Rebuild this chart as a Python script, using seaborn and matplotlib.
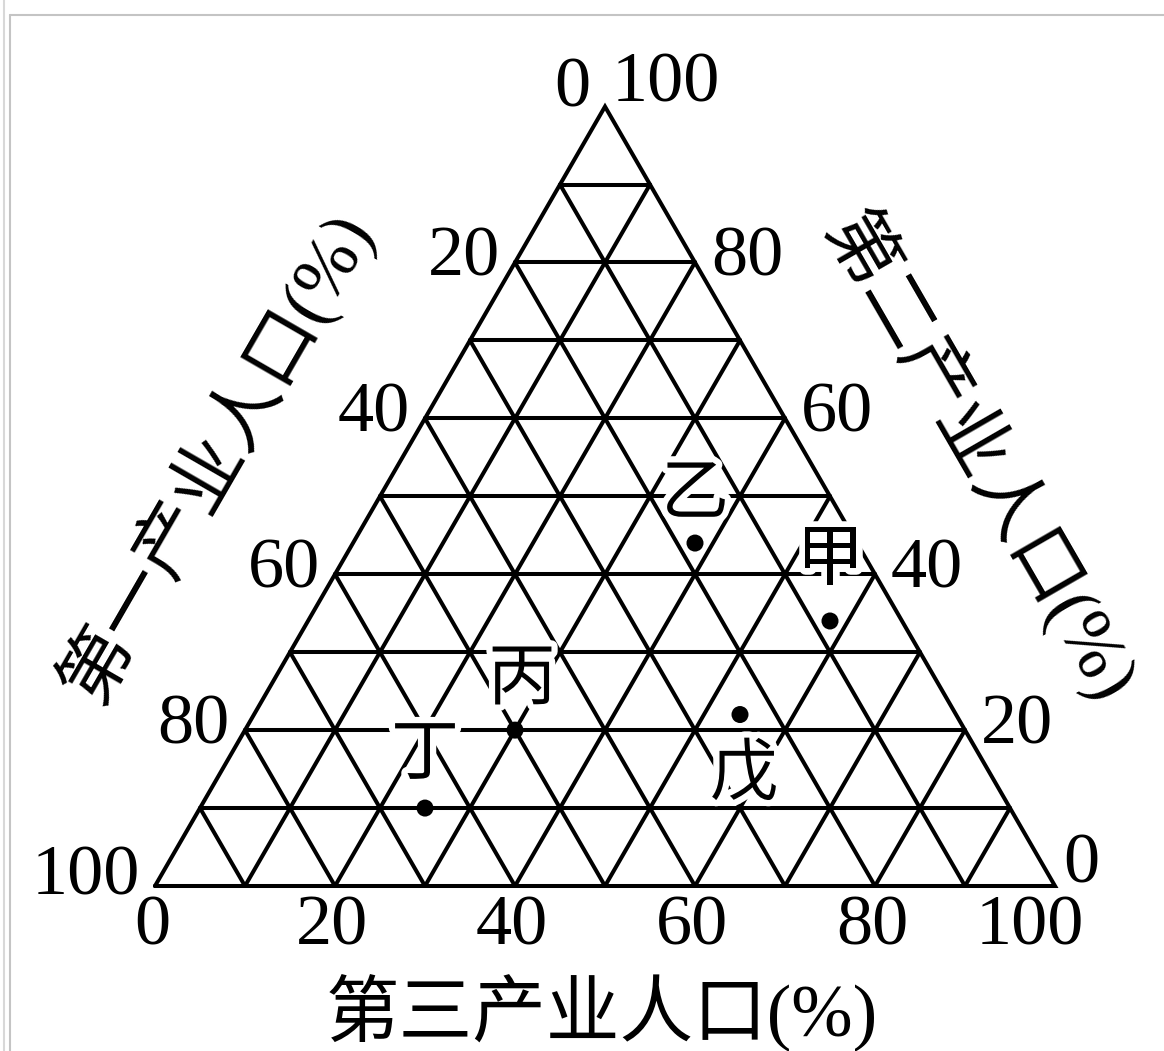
import numpy as np
import pandas as pd
import matplotlib
matplotlib.use('Agg')
import matplotlib.pyplot as plt
import matplotlib.patheffects as pe
from matplotlib.lines import Line2D
import seaborn as sns

# 五个地区三次产业人口构成 (%)
names = ['甲', '乙', '丙', '丁', '戊']
primary = [8, 18, 50, 65, 24]
secondary = [34, 44, 20, 10, 22]
tertiary = [58, 38, 30, 25, 54]

tick_values = [0, 20, 40, 60, 80, 100]
grid_values = list(range(10, 100, 10))

title_bottom = '第三产业人口(%)'
title_left = '第一产业人口(%)'
title_right = '第二产业人口(%)'

sns.set_theme(style='white')
plt.rcParams['font.family'] = ['Liberation Serif', 'Noto Sans CJK SC']
plt.rcParams['text.color'] = 'black'
plt.rcParams['axes.unicode_minus'] = False

W, HT = 1164, 1051
SIDE = 900.0          # 三角形边长(像素)
X0, Y0 = 155, 886     # 左下角顶点位置(像素)
SQ = np.sqrt(3) / 2


def to_xy(s, t):
    """第二产业 s、第三产业 t (%) -> 平面坐标"""
    s = np.asarray(s, dtype=float) / 100
    t = np.asarray(t, dtype=float) / 100
    return t + s / 2, s * SQ


def px(x, y):
    """像素位置 -> 数据坐标(只用于摆放文字)"""
    return (x - X0) / SIDE, (Y0 - y) / SIDE


fig = plt.figure(figsize=(W / 100, HT / 100), dpi=100)
ax = fig.add_axes([0, 0, 1, 1])
ax.set_xlim(-X0 / SIDE, (W - X0) / SIDE)
ax.set_ylim((Y0 - HT) / SIDE, Y0 / SIDE)
ax.set_aspect('equal')
ax.axis('off')

lw = 2.9
# 网格线
for v in grid_values:
    x, y = to_xy([v, v], [0, 100 - v])          # 第二产业等值线
    ax.plot(x, y, color='black', lw=lw)
    x, y = to_xy([0, 100 - v], [v, v])          # 第三产业等值线
    ax.plot(x, y, color='black', lw=lw)
    x, y = to_xy([0, 100 - v], [100 - v, 0])    # 第一产业等值线
    ax.plot(x, y, color='black', lw=lw)

# 外框
x, y = to_xy([0, 0, 100, 0], [0, 100, 0, 0])
ax.plot(x, y, color='black', lw=lw, solid_joinstyle='miter')

# 样点
df = pd.DataFrame({'name': names, 'p': primary, 's': secondary, 't': tertiary})
df['x'], df['y'] = to_xy(df['s'], df['t'])
sns.scatterplot(data=df, x='x', y='y', color='black', s=150, edgecolor='none',
                ax=ax, zorder=5, legend=False)

label_offsets = {'甲': (0, 60), '乙': (0, 48), '丙': (7, 50), '丁': (0, 53), '戊': (4, -61)}
halo = [pe.withStroke(linewidth=9, foreground='white')]
for _, r in df.iterrows():
    ax.annotate(r['name'], (r['x'], r['y']), xytext=label_offsets[r['name']],
                textcoords='offset pixels', ha='center', va='center',
                fontsize=49, family=['Noto Sans CJK SC'], zorder=6, path_effects=halo)
ax.set_xlabel('')
ax.set_ylabel('')

fs = 52
# 底边: 第三产业
for v in tick_values:
    x, y = to_xy(0, v)
    dx = -25 if v == 100 else -3
    ax.annotate(str(v), (x, y), xytext=(dx, -41), textcoords='offset pixels',
                ha='center', va='center', fontsize=fs)

# 左边: 第一产业
for v in tick_values:
    x, y = to_xy(100 - v, 0)
    dy = {0: 18, 100: 9}.get(v, 4)
    ax.annotate(str(v), (x, y), xytext=(-15, dy), textcoords='offset pixels',
                ha='right', va='center', fontsize=fs)

# 右边: 第二产业
for v in tick_values:
    x, y = to_xy(v, 100 - v)
    dx, dy = {0: (8, 21), 100: (7, 23)}.get(v, (16, 4))
    ax.annotate(str(v), (x, y), xytext=(dx, dy), textcoords='offset pixels',
                ha='left', va='center', fontsize=fs)

# 坐标轴名称
tfs = 53
ax.text(*px(602, 1013), title_bottom, ha='center', va='center', fontsize=tfs)
ax.text(*px(216, 457), title_left, ha='center', va='center', fontsize=tfs,
        rotation=60, rotation_mode='anchor')
ax.text(*px(980, 457), title_right, ha='center', va='center', fontsize=tfs,
        rotation=-60, rotation_mode='anchor')

# 图片边框
gray = '#c4c4c4'
fig.add_artist(Line2D([3.5 / W, 3.5 / W], [0, 1], transform=fig.transFigure, color='#d8d8d8', lw=1.5))
fig.add_artist(Line2D([10.5 / W, 10.5 / W], [0, 1 - 15 / HT], transform=fig.transFigure, color=gray, lw=1.5))
fig.add_artist(Line2D([10.5 / W, 1], [1 - 15 / HT, 1 - 15 / HT], transform=fig.transFigure, color=gray, lw=1.5))

fig.savefig('out.png', dpi=100, facecolor='white')
